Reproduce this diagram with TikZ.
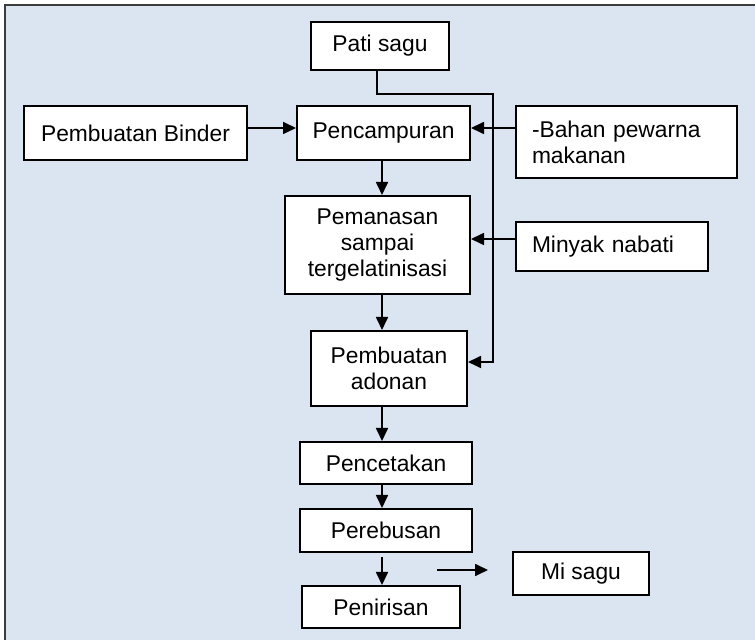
\documentclass[tikz,border=0pt]{standalone}
\usepackage{fontspec}
\setmainfont{Liberation Sans}
\usetikzlibrary{arrows.meta}
\definecolor{bgblue}{RGB}{219,229,241}
\definecolor{framegray}{RGB}{60,60,60}
\begin{document}
\begin{tikzpicture}[x=0.5pt,y=-0.5pt,
  box/.style={draw=black, fill=white, line width=1pt, inner sep=0pt,
    font=\fontsize{11.4}{12.9}\selectfont, align=center},
  lbox/.style={box, align=left, inner xsep=8pt},
  arr/.style={draw=black, line width=0.85pt, -{Triangle[length=6.5pt,width=6pt]}}]
\useasboundingbox (0,0) rectangle (755,640);
\fill[bgblue] (5,5) rectangle (755,640);
\draw[framegray, line width=0.9pt] (755,5) -- (5,5) -- (5,640);

\node[box, minimum width=69pt, minimum height=24pt] (pati) at (380,46) {Pati sagu};
\node[box, minimum width=111.5pt, minimum height=27pt] (binder) at (135.5,133) {Pembuatan Binder};
\node[box, minimum width=86.5pt, minimum height=27pt] (campur) at (383.5,133) {Pencampuran};
\node[lbox, text width=94.5pt, minimum height=36pt] (bahan) at (626.5,142) {-Bahan pewarna\\makanan};
\node[box, minimum width=92.5pt, minimum height=49pt] (panas) at (377.5,245) {Pemanasan\\sampai\\tergelatinisasi};
\node[lbox, text width=80pt, minimum height=24.5pt] (minyak) at (612,246.5) {Minyak nabati};
\node[box, minimum width=78pt, minimum height=37.5pt] (adonan) at (389,368.5) {Pembuatan\\adonan};
\node[box, minimum width=86pt, minimum height=21pt] (cetak) at (386,463) {Pencetakan};
\node[box, minimum width=86pt, minimum height=21.5pt] (rebus) at (386,530.5) {Perebusan};
\node[box, minimum width=79pt, minimum height=21pt] (tiris) at (381,607) {Penirisan};
\node[box, minimum width=68pt, minimum height=21.5pt] (mi) at (581,573.5) {Mi sagu};

\coordinate (spine) at (382,0);
\coordinate (r1) at (0,128);
\coordinate (r2) at (0,239);
\coordinate (r3) at (0,362);
\coordinate (c1) at (493,94);
\coordinate (fa1) at (437,570);
\coordinate (fa2) at (488,570);

\draw[arr] (binder.east |- r1) -- (campur.west |- r1);
\draw[arr] (bahan.west |- r1) -- (campur.east |- r1);
\draw[arr] (minyak.west |- r2) -- (panas.east |- r2);
\draw[arr] (campur.south -| spine) -- (panas.north -| spine);
\draw[arr] (panas.south -| spine) -- (adonan.north -| spine);
\draw[arr] (adonan.south -| spine) -- (cetak.north -| spine);
\draw[arr] (cetak.south -| spine) -- (rebus.north -| spine);
\draw[arr, shorten <=2pt] (rebus.south -| spine) -- (tiris.north -| spine);
\draw[arr] ([xshift=-1.5pt]pati.south) |- (c1) |- (adonan.east |- r3);
\draw[arr] (fa1) -- (fa2);
\end{tikzpicture}
\end{document}
